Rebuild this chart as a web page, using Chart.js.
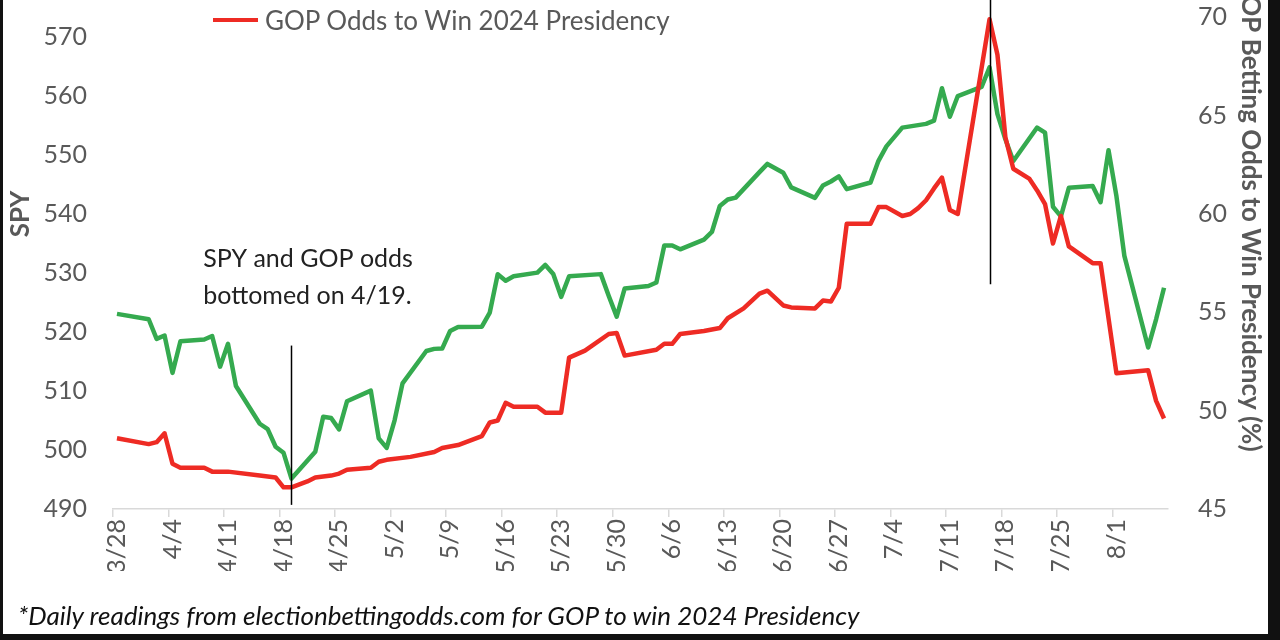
<!DOCTYPE html>
<html>
<head>
<meta charset="utf-8">
<script src="https://cdn.jsdelivr.net/npm/chart.js@4.4.1/dist/chart.umd.min.js"></script>
<style>
    html, body { margin: 0; padding: 0; background: #111; width: 1280px; height: 640px; overflow: hidden; }
    #frame { position: absolute; left: 3px; top: 0; width: 1265px; height: 634px; background: #fff; overflow: hidden; }
    #chartBox { position: absolute; left: -3px; top: -126px; width: 1280px; height: 766px; }
    #legend { position: absolute; left: 210px; top: 5px; height: 30px; font: 26px Lato; color: #595959; display: flex; align-items: center; }
    #legend .swatch { width: 45px; height: 4px; background: #ee2b24; margin-right: 7px; }
    #note { position: absolute; left: 15px; top: 599px; font: italic 26px Lato; color: #111; white-space: nowrap; }
</style>
</head>
<body>
<div id="frame">
    <div id="chartBox"><canvas id="chart" width="1280" height="766"></canvas></div>
    <div id="legend"><span class="swatch"></span><span>GOP Odds to Win 2024 Presidency</span></div>
    <div id="note">*Daily readings from electionbettingodds.com for GOP to win 2024 Presidency</div>
</div>
<script>
// daily categories, 3/28 - 8/7
const dates = [
    '3/28', '3/29', '3/30', '3/31',
    '4/1', '4/2', '4/3', '4/4', '4/5', '4/6', '4/7', '4/8', '4/9', '4/10', '4/11', '4/12', '4/13', '4/14', '4/15',
    '4/16', '4/17', '4/18', '4/19', '4/20', '4/21', '4/22', '4/23', '4/24', '4/25', '4/26', '4/27', '4/28', '4/29', '4/30',
    '5/1', '5/2', '5/3', '5/4', '5/5', '5/6', '5/7', '5/8', '5/9', '5/10', '5/11', '5/12', '5/13', '5/14', '5/15', '5/16',
    '5/17', '5/18', '5/19', '5/20', '5/21', '5/22', '5/23', '5/24', '5/25', '5/26', '5/27', '5/28', '5/29', '5/30', '5/31',
    '6/1', '6/2', '6/3', '6/4', '6/5', '6/6', '6/7', '6/8', '6/9', '6/10', '6/11', '6/12', '6/13', '6/14', '6/15',
    '6/16', '6/17', '6/18', '6/19', '6/20', '6/21', '6/22', '6/23', '6/24', '6/25', '6/26', '6/27', '6/28', '6/29', '6/30',
    '7/1', '7/2', '7/3', '7/4', '7/5', '7/6', '7/7', '7/8', '7/9', '7/10', '7/11', '7/12', '7/13', '7/14', '7/15', '7/16',
    '7/17', '7/18', '7/19', '7/20', '7/21', '7/22', '7/23', '7/24', '7/25', '7/26', '7/27', '7/28', '7/29', '7/30', '7/31',
    '8/1', '8/2', '8/3', '8/4', '8/5', '8/6', '8/7'
];

const weekTicks = ['3/28', '4/4', '4/11', '4/18', '4/25', '5/2', '5/9', '5/16', '5/23', '5/30',
    '6/6', '6/13', '6/20', '6/27', '7/4', '7/11', '7/18', '7/25', '8/1'];

// SPY close (trading days only, null = market closed)
const spy = [
    523.07, null, null, null,
    522.16, 518.84, 519.41, 513.07, 518.43, null, null, 518.72, 519.32, 514.12, 518.00, 510.85, null, null, 504.45,
    503.53, 500.55, 499.52, 495.16, null, null, 499.72, 505.65, 505.41, 503.49, 508.26, null, null, 510.06, 501.98,
    500.35, 505.03, 511.29, null, null, 516.78, 517.14, 517.19, 520.17, 520.84, null, null, 520.91, 523.30, 529.78, 528.69,
    529.45, null, null, 530.06, 531.36, 529.83, 525.96, 529.44, null, null, null, 529.81, 526.10, 522.61, 527.37,
    null, null, 527.80, 528.39, 534.67, 534.66, 534.01, null, null, 535.66, 536.95, 541.36, 542.45, 542.78, null,
    null, 547.10, 548.49, null, 547.00, 544.51, null, null, 542.74, 544.83, 545.51, 546.37, 544.22, null, null,
    545.34, 549.01, 551.46, null, 554.64, null, null, 555.28, 555.82, 561.32, 556.48, 559.99, null, null, 561.53, 564.86,
    556.94, 552.66, 548.99, null, null, 554.65, 553.78, 541.23, 539.6, 544.44, null, null, 544.76, 542.00, 550.81,
    543.01, 532.90, null, null, 517.38, 522.15, 527.5
];

// GOP odds to win (%), read where the line bends
const gopOdds = [
    48.6, null, null, null,
    48.3, 48.4, 48.85, 47.3, 47.1, null, null, 47.1, 46.9, null, 46.9, null, null, null, 46.7,
    null, 46.6, 46.1, 46.1, null, 46.4, 46.6, null, 46.7, 46.8, 47.0, null, null, 47.1, 47.4,
    47.5, null, null, 47.65, null, null, 47.9, 48.1, null, 48.25, null, null, 48.7, 49.4, 49.5, 50.4,
    50.2, null, null, 50.2, 49.9, null, 49.9, 52.7, null, 53.05, null, null, 53.9, 53.95, 52.8,
    null, null, null, 53.1, 53.4, 53.4, 53.9, null, null, 54.05, null, 54.2, 54.7, null, 55.2,
    null, 55.95, 56.1, null, 55.35, 55.25, null, null, 55.2, 55.6, 55.55, 56.25, 59.5, null, null,
    59.5, 60.35, 60.35, null, 59.9, 60.0, 60.3, 60.7, 61.3, 61.85, 60.2, 60.0, null, null, null, 69.9,
    68.1, 63.9, 62.3, null, 61.8, 61.2, 60.5, 58.5, 59.9, 58.35, null, null, 57.5, 57.5, null,
    51.9, null, null, null, 52.05, 50.5, 49.6
];

// marker lines (SPY scale) and the note
const markerDates = ['4/19', '7/16'];
const markerTop = [517.7, 590];
const markerBottom = [490.7, 528.1];
const noteLines = ['SPY and GOP odds', 'bottomed on 4/19.'];
const noteDate = '4/8';
const noteLevels = [532.4, 526.1];

Chart.defaults.font.family = 'Lato';
Chart.defaults.color = '#595959';

const markerPlugin = {
    id: 'markers',
    afterDatasetsDraw(chart) {
        const ctx = chart.ctx;
        const xs = chart.scales.x;
        const ys = chart.scales.y;
        ctx.save();
        ctx.strokeStyle = '#000';
        ctx.lineWidth = 1.5;
        markerDates.forEach((d, i) => {
            const x = Math.round(xs.getPixelForValue(dates.indexOf(d))) + 0.5;
            ctx.beginPath();
            ctx.moveTo(x, ys.getPixelForValue(markerTop[i]));
            ctx.lineTo(x, ys.getPixelForValue(markerBottom[i]));
            ctx.stroke();
        });
        ctx.fillStyle = '#222';
        ctx.font = '25px Lato';
        ctx.textAlign = 'left';
        ctx.textBaseline = 'middle';
        const nx = xs.getPixelForValue(dates.indexOf(noteDate)) - 1;
        noteLines.forEach((t, i) => ctx.fillText(t, nx, ys.getPixelForValue(noteLevels[i])));
        ctx.restore();
    }
};

new Chart(document.getElementById('chart'), {
    type: 'line',
    data: {
        labels: dates,
        datasets: [
            {
                label: 'GOP Odds to Win 2024 Presidency',
                data: gopOdds,
                yAxisID: 'y1',
                borderColor: '#ee2b24',
                borderWidth: 4.5,
                pointRadius: 0,
                spanGaps: true,
                tension: 0,
                borderJoinStyle: 'round',
                order: 0
            },
            {
                label: 'SPY',
                data: spy,
                yAxisID: 'y',
                borderColor: '#35aa4f',
                borderWidth: 4.5,
                pointRadius: 0,
                spanGaps: true,
                tension: 0,
                borderJoinStyle: 'round',
                order: 1
            }
        ]
    },
    options: {
        responsive: false,
        animation: false,
        layout: { padding: { top: 17, bottom: 69, left: 0, right: 0 } },
        plugins: { legend: { display: false }, tooltip: { enabled: false } },
        scales: {
            x: {
                offset: true,
                grid: {
                    offset: true,
                    drawOnChartArea: false,
                    tickLength: 8,
                    lineWidth: 1.5,
                    color: (c) => (weekTicks.includes(dates[c.index]) || c.index === dates.length) ? '#d9d9d9' : 'rgba(0,0,0,0)'
                },
                border: { color: '#d9d9d9', width: 1.5 },
                ticks: {
                    autoSkip: false,
                    minRotation: 90,
                    maxRotation: 90,
                    padding: 2,
                    font: { size: 25 },
                    callback: (v, i) => weekTicks.includes(dates[i]) ? dates[i] : ''
                },
                afterFit: (s) => { s.height = 62; }
            },
            y: {
                position: 'left',
                min: 490,
                max: 590,
                ticks: { stepSize: 10, padding: 26, font: { size: 25 } },
                grid: { display: false, drawTicks: false },
                border: { display: false },
                title: { display: true, text: 'SPY', font: { size: 26, weight: 'bold' }, padding: { top: 5 } },
                afterFit: (s) => { s.width = 113; }
            },
            y1: {
                position: 'right',
                min: 45,
                max: 75,
                ticks: { stepSize: 5, padding: 30, font: { size: 25 } },
                grid: { display: false, drawTicks: false },
                border: { display: false },
                title: { display: true, text: 'GOP Betting Odds to Win Presidency (%)', font: { size: 26, weight: 'bold' }, padding: { top: 14 } },
                afterFit: (s) => { s.width = 112; }
            }
        }
    },
    plugins: [markerPlugin]
});
</script>
</body>
</html>
